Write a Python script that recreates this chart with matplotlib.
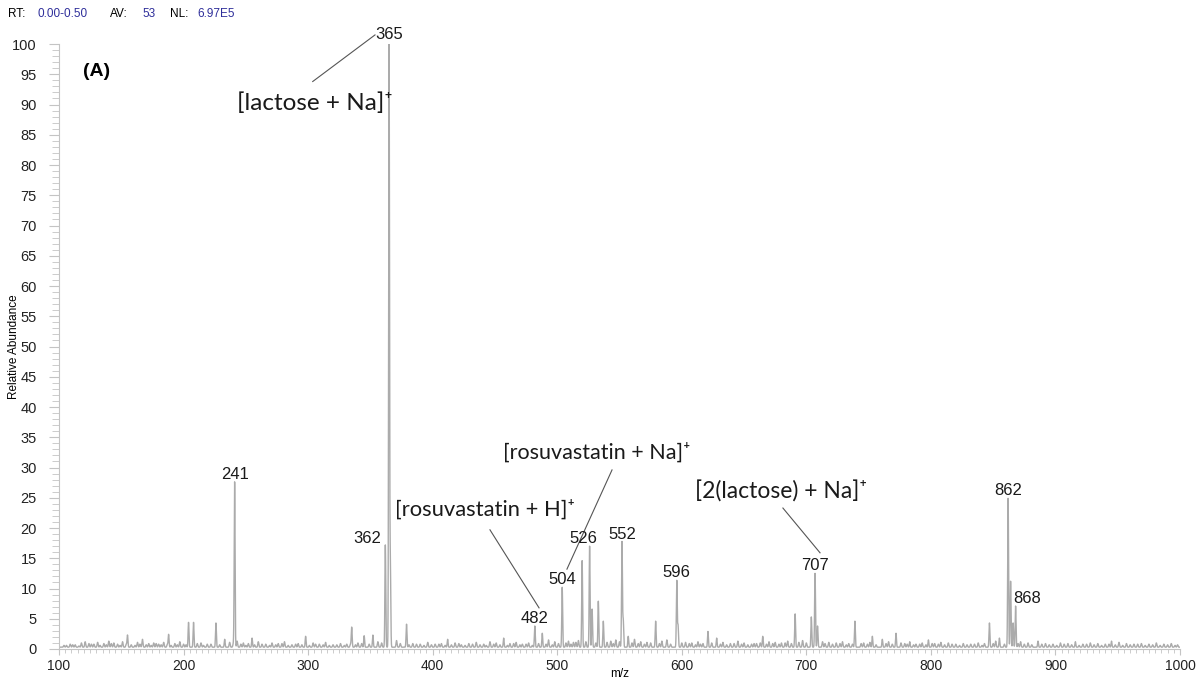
import numpy as np
import matplotlib.pyplot as plt
from matplotlib.ticker import MultipleLocator

# labelled peaks (m/z, relative abundance)
label_mz = [241, 362, 365, 482, 504, 526, 552, 596, 707, 862, 868]
label_int = [27.3, 16.9, 100.0, 3.5, 9.9, 16.7, 17.4, 11.0, 12.2, 24.6, 6.8]

# other resolved peaks without labels
other_mz = [155, 188, 204, 208, 226, 233, 255, 298, 335, 345,
            352, 366, 379, 412, 457, 488, 520, 528, 533, 537,
            553, 557, 579, 597, 621, 628, 665, 691, 704, 709,
            739, 753, 761, 772, 783, 798, 847, 855, 864, 866,
            886, 916, 945]
other_int = [2.0, 2.1, 4.1, 4.1, 4.0, 1.3, 1.5, 1.8, 3.3, 1.9,
             2.0, 14.2, 3.8, 1.3, 1.5, 2.3, 14.3, 6.3, 7.6, 4.3,
             4.5, 1.8, 4.3, 3.6, 2.6, 1.5, 1.8, 5.5, 5.0, 3.5,
             4.3, 1.8, 1.3, 2.3, 0.9, 1.2, 4.0, 1.5, 10.9, 4.0,
             1.0, 0.9, 1.0]

# noise-level bumps along the baseline
noise_mz = [104, 109, 113, 118, 121, 124, 128, 131, 136, 140,
            144, 147, 151, 163, 167, 172, 176, 180, 184, 193,
            197, 214, 219, 237, 243, 248, 252, 260, 266, 271,
            276, 281, 287, 292, 304, 309, 314, 320, 326, 331,
            340, 356, 371, 384, 390, 396, 402, 407, 418, 423,
            429, 435, 441, 446, 451, 462, 467, 472, 477, 493,
            498, 509, 513, 517, 543, 547, 562, 567, 572, 584,
            588, 603, 608, 613, 617, 633, 639, 645, 650, 656,
            660, 670, 675, 680, 685, 697, 713, 718, 724, 729,
            734, 746, 751, 766, 779, 788, 793, 803, 808, 814,
            820, 826, 832, 838, 843, 852, 872, 878, 892, 898,
            904, 910, 922, 928, 934, 940, 951, 957, 963, 969,
            975, 981, 987, 993, 998]
noise_int = [0.3, 0.5, 0.4, 0.7, 0.9, 0.6, 0.5, 0.8, 0.6, 1.0,
             0.7, 0.5, 0.9, 0.8, 1.3, 0.6, 0.7, 0.5, 0.8, 0.6,
             0.9, 0.7, 0.5, 0.8, 1.0, 0.7, 0.6, 0.9, 0.5, 0.7,
             0.6, 0.9, 0.4, 0.6, 0.7, 0.5, 0.8, 0.4, 0.6, 0.5,
             0.7, 0.9, 1.1, 0.6, 0.5, 0.8, 0.5, 0.6, 0.7, 0.4,
             0.6, 0.8, 0.5, 0.9, 0.7, 0.6, 0.8, 0.5, 0.7, 1.2,
             0.9, 1.0, 0.8, 1.1, 1.0, 1.2, 1.3, 0.9, 0.8, 1.0,
             1.2, 0.8, 0.7, 0.9, 0.6, 0.8, 0.6, 1.0, 0.7, 0.5,
             0.6, 0.9, 0.8, 0.7, 1.0, 1.1, 0.9, 0.8, 0.7, 0.9,
             0.6, 0.7, 0.8, 0.9, 0.6, 0.5, 0.7, 0.6, 0.8, 0.7,
             0.5, 0.6, 0.5, 0.7, 0.6, 1.0, 0.9, 0.7, 0.6, 0.5,
             0.7, 0.6, 0.5, 0.7, 0.6, 0.5, 0.8, 0.6, 0.5, 0.6,
             0.5, 0.7, 0.5, 0.6, 0.4]

# finer fuzz between the noise bumps
fuzz_mz = [106, 111, 116, 126, 133, 138, 142, 149, 154, 158,
           161, 165, 170, 174, 178, 182, 187, 190, 195, 200,
           202, 211, 216, 222, 229, 240, 246, 250, 257, 263,
           269, 274, 279, 284, 290, 295, 301, 306, 312, 317,
           323, 329, 334, 338, 343, 349, 359, 374, 381, 387,
           393, 399, 405, 410, 415, 421, 426, 432, 438, 443,
           449, 454, 460, 465, 470, 475, 480, 485, 491, 496,
           501, 507, 511, 515, 523, 531, 540, 545, 550, 560,
           565, 570, 575, 582, 591, 600, 606, 611, 615, 624,
           631, 636, 642, 648, 653, 658, 663, 668, 673, 678,
           683, 688, 694, 700, 715, 721, 727, 732, 737, 744,
           749, 756, 764, 769, 776, 781, 786, 791, 796, 801,
           806, 811, 817, 823, 829, 835, 841, 850, 859, 870,
           875, 881, 889, 895, 901, 907, 913, 919, 925, 931,
           937, 943, 948, 954, 960, 966, 972, 978, 984, 990,
           996]
fuzz_int = [0.3, 0.4, 0.2, 0.5, 0.3, 0.4, 0.6, 0.3, 0.5, 0.4,
            0.3, 0.5, 0.4, 0.3, 0.6, 0.4, 0.5, 0.3, 0.4, 0.5,
            0.4, 0.6, 0.3, 0.5, 0.4, 0.6, 0.5, 0.3, 0.4, 0.5,
            0.3, 0.4, 0.6, 0.3, 0.5, 0.4, 0.3, 0.5, 0.4, 0.3,
            0.4, 0.3, 0.5, 0.4, 0.6, 0.5, 0.7, 0.6, 0.4, 0.5,
            0.3, 0.4, 0.5, 0.3, 0.4, 0.6, 0.3, 0.5, 0.4, 0.3,
            0.5, 0.4, 0.3, 0.6, 0.4, 0.5, 0.3, 0.6, 0.5, 0.4,
            0.6, 0.7, 0.5, 0.8, 0.9, 0.7, 0.8, 0.6, 0.9, 0.7,
            0.6, 0.5, 0.7, 0.6, 0.5, 0.7, 0.6, 0.4, 0.5, 0.7,
            0.5, 0.4, 0.6, 0.5, 0.4, 0.6, 0.7, 0.5, 0.6, 0.5,
            0.7, 0.6, 0.8, 0.7, 0.6, 0.5, 0.6, 0.4, 0.5, 0.6,
            0.5, 0.4, 0.6, 0.5, 0.7, 0.5, 0.4, 0.5, 0.4, 0.6,
            0.5, 0.4, 0.5, 0.3, 0.4, 0.5, 0.3, 0.6, 0.5, 0.6,
            0.5, 0.4, 0.5, 0.4, 0.3, 0.5, 0.4, 0.3, 0.5, 0.4,
            0.3, 0.5, 0.4, 0.3, 0.4, 0.5, 0.3, 0.4, 0.3, 0.4,
            0.3]

baseline = 0.3

# ion assignments: text, text position, leader line start and end
ion_text = ["[lactose + Na]⁺", "[rosuvastatin + Na]⁺",
            "[rosuvastatin + H]⁺", "[2(lactose) + Na]⁺"]
ion_size = [17.5, 15.5, 15.8, 16.5]
ion_pos = [(305.5, 90.2), (531.9, 32.4), (442.0, 23.0), (679.6, 26.0)]
ion_line = [((303.7, 93.8), (353.7, 101.5)),
            ((544.0, 29.6), (507.8, 13.2)),
            ((446.0, 19.7), (485.4, 6.8)),
            ((681.2, 23.3), (711.0, 15.9))]


def profile(mz, centres, heights, width):
    y = np.zeros_like(mz)
    for c, h in zip(centres, heights):
        y += h * np.exp(-0.5 * ((mz - c) / width) ** 2)
    return y


mz = np.arange(100, 1000.01, 0.05)
spec = (baseline
        + profile(mz, label_mz, label_int, 0.35)
        + profile(mz, other_mz, other_int, 0.35)
        + profile(mz, noise_mz, noise_int, 0.4)
        + profile(mz, fuzz_mz, fuzz_int, 0.4))
spec = np.minimum(spec, 100.0)

plt.rcParams['font.family'] = ['Liberation Sans', 'DejaVu Sans']

fig = plt.figure(figsize=(11.96, 6.8), dpi=100)
ax = fig.add_axes([59 / 1196, 1 - 649 / 680, (1180 - 59) / 1196, (649 - 44) / 680])

ax.plot(mz, spec, color='#ababab', lw=1.0)

ax.set_xlim(100, 1000)
ax.set_ylim(0, 100)
ax.xaxis.set_major_locator(MultipleLocator(100))
ax.xaxis.set_minor_locator(MultipleLocator(5))
ax.yaxis.set_major_locator(MultipleLocator(5))
ax.yaxis.set_minor_locator(MultipleLocator(1))
for s in ['top', 'right']:
    ax.spines[s].set_visible(False)
for s in ['left', 'bottom']:
    ax.spines[s].set_color('#c4c4c4')
    ax.spines[s].set_linewidth(0.8)
ax.tick_params(axis='both', which='both', color='#c4c4c4', labelcolor='#222222')
ax.tick_params(axis='y', which='major', length=7, pad=9, labelsize=10.5)
ax.tick_params(axis='y', which='minor', length=5)
ax.tick_params(axis='x', which='major', length=4, pad=3, labelsize=10)
ax.tick_params(axis='x', which='minor', length=3)

ax.set_xlabel('m/z', fontsize=8.5)
ax.xaxis.set_label_coords(0.5, -0.032)
ax.set_ylabel('Relative Abundance', fontsize=8.5)
ax.yaxis.set_label_coords(-0.035, 0.5)

# peak labels
for m, h in zip(label_mz, label_int):
    ha, dx, dy = 'center', 0, 2
    if m == 362:
        ha, dx, dy = 'right', -4, 1
    elif m == 526:
        dx = -6
    elif m == 868:
        ha, dx = 'left', -2
    ax.annotate(str(m), (m, h), xytext=(dx, dy), textcoords='offset pixels',
                ha=ha, va='bottom', fontsize=12, color='#1a1a1a',
                annotation_clip=False)

for t, s, p, (a, b) in zip(ion_text, ion_size, ion_pos, ion_line):
    ax.text(p[0], p[1], t, ha='center', va='center', fontsize=s,
            family=['Lato', 'DejaVu Sans'], color='#1a1a1a')
    ax.plot([a[0], b[0]], [a[1], b[1]], color='#555555', lw=0.8, clip_on=False)

ax.text(0.021, 0.955, '(A)', transform=ax.transAxes, fontsize=14,
        fontweight='bold', va='center', ha='left')

# scan header
hdr = [('RT:', 8, 'black'), ('0.00-0.50', 38, '#2e2e9a'),
       ('AV:', 110, 'black'), ('53', 142, '#2e2e9a'),
       ('NL:', 170, 'black'), ('6.97E5', 197, '#2e2e9a')]
for t, x, c in hdr:
    fig.text(x / 1196, 1 - 14 / 680, t, fontsize=8.5, color=c, va='center')

fig.savefig('out.png', dpi=100)
